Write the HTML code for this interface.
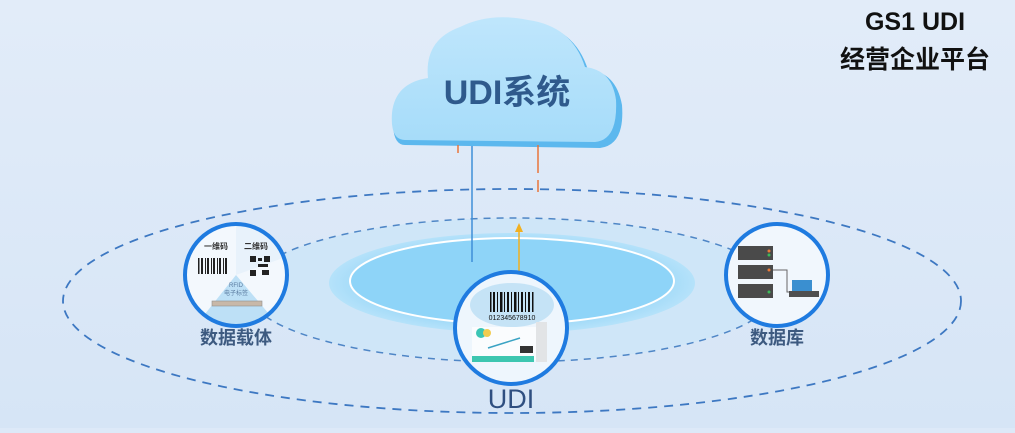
<!DOCTYPE html>
<html><head><meta charset="utf-8"><style>
body{margin:0;width:1015px;height:428px;overflow:hidden;background:#dde9f8;font-family:"Liberation Sans","Noto Sans CJK SC",sans-serif}
</style></head><body>
<svg width="1015" height="428" viewBox="0 0 1015 428" xmlns="http://www.w3.org/2000/svg">
<defs>
<linearGradient id="bg" x1="0" y1="0" x2="0" y2="1"><stop offset="0" stop-color="#e2ecf9"/><stop offset="1" stop-color="#d6e5f6"/></linearGradient>
<radialGradient id="ring" cx="0.5" cy="0.5" r="0.5"><stop offset="0" stop-color="#8fd2f7"/><stop offset="0.8" stop-color="#9fd9f8"/><stop offset="1" stop-color="#b5e2fa"/></radialGradient>
<linearGradient id="cl" x1="0" y1="0" x2="0" y2="1"><stop offset="0" stop-color="#bfe6fc"/><stop offset="1" stop-color="#a6dcf9"/></linearGradient>
</defs>
<rect width="1015" height="428" fill="url(#bg)"/>
<text x="915" y="30" font-size="25" font-weight="bold" text-anchor="middle" fill="#111">GS1 UDI</text>
<text x="915" y="68" font-size="25" font-weight="bold" text-anchor="middle" fill="#111">经营企业平台</text>
<!-- inner area -->
<ellipse cx="512" cy="290" rx="265" ry="72" fill="#cfe6f8" stroke="#4f86c6" stroke-width="1.5" stroke-dasharray="7,6"/>
<ellipse cx="512" cy="283" rx="183" ry="50" fill="url(#ring)"/>
<ellipse cx="512" cy="281" rx="162" ry="43" fill="#8ed4f8" stroke="#fff" stroke-width="2"/>
<ellipse cx="512" cy="301" rx="449" ry="112" fill="none" stroke="#3d78c2" stroke-width="1.8" stroke-dasharray="9,7"/>
<!-- cloud -->
<g>
<path d="M405 145 Q392 145 393 118 Q395 86 430 80 Q425 42 462 30 Q490 14 530 22 Q575 28 588 70 Q616 72 622 105 Q625 145 600 148 Z" fill="#5cb8ee"/>
<path d="M405 140 Q390 140 392 113 Q395 83 428 78 Q424 40 460 27 Q490 12 528 20 Q572 26 585 67 Q612 70 616 100 Q618 140 595 142 Z" fill="url(#cl)"/>
<text x="507" y="104" font-size="34" font-weight="bold" text-anchor="middle" fill="#2f5a8c">UDI系统</text>
</g>
<line x1="472" y1="146" x2="472" y2="262" stroke="#3f8fd8" stroke-width="1.5"/>
<line x1="458" y1="145" x2="458" y2="153" stroke="#e8743a" stroke-width="1.5"/>
<line x1="538" y1="145" x2="538" y2="173" stroke="#e8743a" stroke-width="1.5"/>
<line x1="538" y1="180" x2="538" y2="192" stroke="#e8743a" stroke-width="1.5"/>
<line x1="519" y1="232" x2="519" y2="272" stroke="#f1b020" stroke-width="1.5"/>
<polygon points="519,223 515,232 523,232" fill="#f1b020"/>
<!-- left circle -->
<g>
<circle cx="236" cy="275" r="51" fill="#f3f8fd"/>
<path d="M236 275 L205 314 A51 51 0 0 0 269 314 Z" fill="#bde0f6"/>
<path d="M236 275 L236 224 A51 51 0 0 1 283 258 Z" fill="#e8f2fb"/>
<text x="216" y="249" font-size="8" font-weight="bold" text-anchor="middle" fill="#333">一维码</text>
<text x="256" y="249" font-size="8" font-weight="bold" text-anchor="middle" fill="#333">二维码</text>
<g fill="#222"><rect x="198" y="258" width="1.5" height="16"/><rect x="201" y="258" width="2" height="16"/><rect x="205" y="258" width="1" height="16"/><rect x="207" y="258" width="2" height="16"/><rect x="211" y="258" width="1" height="16"/><rect x="213" y="258" width="2" height="16"/><rect x="217" y="258" width="1" height="16"/><rect x="219" y="258" width="2" height="16"/><rect x="223" y="258" width="1" height="16"/><rect x="225" y="258" width="2" height="16"/></g>
<g fill="#222"><rect x="250" y="256" width="6" height="6"/><rect x="264" y="256" width="6" height="6"/><rect x="250" y="270" width="6" height="6"/><rect x="258" y="258" width="4" height="3"/><rect x="258" y="264" width="10" height="3"/><rect x="262" y="270" width="7" height="5"/></g>
<text x="236" y="287" font-size="6" text-anchor="middle" fill="#5a7ba0">RFID</text>
<text x="236" y="295" font-size="6" text-anchor="middle" fill="#5a7ba0">电子标签</text>
<rect x="212" y="301" width="50" height="5" fill="#c8b8a8" stroke="#8f8f8f" stroke-width="0.6"/>
<circle cx="236" cy="275" r="51" fill="none" stroke="#1f7be0" stroke-width="4"/>
<text x="236" y="344" font-size="18" font-weight="bold" text-anchor="middle" fill="#3d5a80">数据载体</text>
</g>
<!-- right circle -->
<g>
<circle cx="777" cy="275" r="51" fill="#f1f7fd"/>
<g fill="#4a4a4a"><rect x="738" y="246" width="35" height="14"/><rect x="738" y="265" width="35" height="14"/><rect x="738" y="284" width="35" height="14"/></g>
<g fill="#e87a3a"><circle cx="769" cy="251" r="1.5"/><circle cx="769" cy="270" r="1.5"/></g>
<g fill="#3cba5a"><circle cx="769" cy="255" r="1.5"/><circle cx="769" cy="292" r="1.5"/></g>
<polyline points="773,270 787,270 787,292 792,292" fill="none" stroke="#666" stroke-width="1"/>
<rect x="792" y="280" width="20" height="12" fill="#3a8fd0"/>
<rect x="789" y="291" width="30" height="6" fill="#4f4f4f"/>
<circle cx="777" cy="275" r="51" fill="none" stroke="#1f7be0" stroke-width="4"/>
<text x="777" y="344" font-size="18" font-weight="bold" text-anchor="middle" fill="#3d5a80">数据库</text>
</g>
<!-- middle circle -->
<g>
<circle cx="511" cy="328" r="56" fill="#eef6fd"/>
<ellipse cx="512" cy="305" rx="42" ry="22" fill="#c5e3f6"/>
<g fill="#111"><rect x="490" y="292" width="1.5" height="20"/><rect x="493" y="292" width="2" height="20"/><rect x="497" y="292" width="1" height="20"/><rect x="500" y="292" width="2.5" height="20"/><rect x="504" y="292" width="1" height="20"/><rect x="507" y="292" width="2" height="20"/><rect x="511" y="292" width="1" height="20"/><rect x="514" y="292" width="2.5" height="20"/><rect x="518" y="292" width="1" height="20"/><rect x="521" y="292" width="2" height="20"/><rect x="525" y="292" width="1" height="20"/><rect x="528" y="292" width="2" height="20"/><rect x="532" y="292" width="1.5" height="20"/></g>
<text x="512" y="320" font-size="7" text-anchor="middle" fill="#111">012345678910</text>
<rect x="472" y="327" width="75" height="33" fill="#fafcfe"/>
<rect x="536" y="322" width="11" height="40" fill="#e2e4e6"/>
<circle cx="481" cy="333" r="5" fill="#3cc5b5"/><circle cx="487" cy="333" r="4" fill="#f2cc50"/>
<line x1="488" y1="348" x2="520" y2="338" stroke="#3aa3c4" stroke-width="1.5"/>
<rect x="472" y="356" width="62" height="6" fill="#3dc6b0"/>
<rect x="520" y="346" width="13" height="7" fill="#333"/>
<circle cx="511" cy="328" r="56" fill="none" stroke="#1f7be0" stroke-width="4"/>
<text x="511" y="408" font-size="27" text-anchor="middle" fill="#2f4f80">UDI</text>
</g>
</svg>
</body></html>
